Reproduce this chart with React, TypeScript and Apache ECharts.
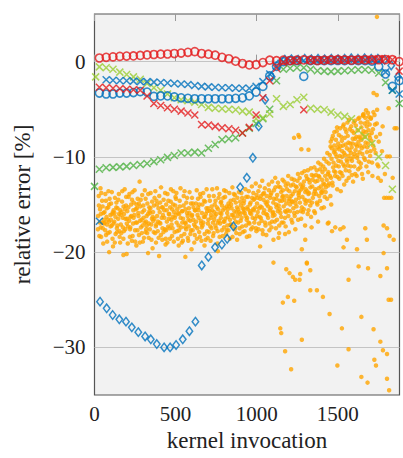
import React, { useEffect, useRef } from 'react';
import * as echarts from 'echarts';

// sampled kernel invocations for the marker series
const SAMPLE_X = [30, 72, 114, 156, 198, 240, 282, 324, 366, 408, 450, 492, 534, 576, 618, 660, 702, 744, 786, 828, 870, 912, 954, 996, 1038, 1080, 1122, 1164, 1206, 1248, 1290, 1332, 1374, 1416, 1458, 1500, 1542, 1584, 1626, 1668, 1710, 1752, 1794, 1836, 1878];

const RED_CIRCLE_Y = [0.38, 0.45, 0.5, 0.55, 0.58, 0.6, 0.65, 0.7, 0.75, 0.78, 0.8, 0.85, 0.9, 0.98, 1.05, 0.85, 0.78, 0.68, 0.45, 0.3, 0.05, -0.2, -0.35, -0.32, -0.1, 0.15, 0.1, 0.15, 0.12, 0.15, 0.18, 0.15, 0.12, 0.15, 0.18, 0.2, 0.18, 0.15, 0.18, 0.2, 0.18, 0.2, 0.22, 0.2, 0.0];
const RED_CROSS_Y = [-2.7, -2.75, -2.8, -2.85, -2.9, -2.95, -3.0, -3.6, -4.4, -4.6, -4.85, -5.0, -5.2, -5.4, -5.6, -6.6, -6.65, -6.8, -6.95, -7.05, -7.2, -7.5, -6.9, -5.6, -3.8, -2.0, -0.7, -0.1, 0.1, 0.15, -5.05, 0.15, 0.2, 0.15, 0.18, 0.2, 0.15, 0.2, 0.22, 0.2, 0.25, 0.3, 0.3, 0.2, -1.0];
const BLUE_CROSS_Y = [-16.75, -1.9, -1.95, -2.0, -2.0, -2.05, -2.1, -2.1, -2.15, -2.2, -2.25, -2.3, -2.35, -2.4, -2.5, -2.6, -2.65, -2.7, -2.75, -2.75, -2.8, -2.8, -2.8, -2.6, -2.1, -1.3, -0.5, 0.0, 0.1, 0.15, 0.12, 0.15, 0.1, 0.15, 0.12, 0.15, 0.18, 0.15, 0.12, 0.15, 0.15, 0.1, -1.1, -3.0, -3.4];
const BLUE_CIRCLE_Y = [-3.3, -3.4, -3.4, -3.3, -3.3, -3.25, -3.15, -3.2, -3.65, -3.6, -3.6, -3.7, -3.8, -3.85, -3.9, -3.9, -3.9, -3.9, -3.9, -3.9, -3.85, -3.8, -3.6, -3.2, -2.6, -1.5, -0.5, 0.0, 0.1, 0.1, -1.55, 0.1, 0.12, 0.1, 0.1, 0.12, 0.1, 0.12, 0.1, 0.1, 0.05, -0.5, -1.3, -2.6, -2.0];
const LIME_FIRST = [7, -1.6];
const LIME_Y = [-0.55, -0.65, -0.8, -1.1, -1.35, -1.6, -1.85, -2.3, -2.75, -3.0, -3.4, -3.8, -4.0, -4.1, -4.25, -4.5, -4.8, -4.9, -4.95, -5.0, -5.05, -5.2, -5.3, -6.0, -5.9, -5.5, -3.9, -4.7, -4.5, -4.0, -3.75, -4.9, -5.0, -5.05, -5.3, -5.6, -5.75, -6.0, -7.2, -7.9, -8.6, -10.0, -10.9, -13.4, null];
const GREEN_FIRST = [0, -13.1];
const GREEN_Y = [-11.3, -11.15, -11.1, -11.05, -11.0, -10.9, -10.8, -10.7, -10.5, -10.3, -10.05, -9.85, -9.6, -9.6, -9.5, -9.6, -9.1, -8.7, -8.2, -8.1, -8.0, -7.5, -7.0, -6.5, -6.0, -5.0, -2.0, -0.8, -0.7, -0.65, -0.65, -0.8, -0.95, -1.0, -1.05, -1.0, -0.95, -0.9, -0.85, -0.85, -0.9, -1.2, -2.2, -3.0, -4.4];

const DIAMONDS = [[34, -25.2], [75, -25.9], [112, -26.6], [153, -27.05], [194, -27.3], [230, -27.9], [270, -28.4], [312, -28.85], [347, -29.15], [384, -29.65], [429, -30.0], [466, -30.0], [503, -29.75], [544, -29.15], [585, -28.3], [622, -27.3], [661, -21.4], [702, -20.5], [743, -19.5], [785, -19.2], [818, -18.6], [856, -17.3], [898, -13.2], [939, -12.2], [976, -10.1], [1012, -6.8], [1052, -4.0], [1092, -1.6], [1132, -0.3], [1173, 0.2], [1214, 0.25], [1255, 0.2], [1296, 0.3], [1337, 0.25], [1378, 0.3], [1419, 0.25], [1460, 0.3], [1501, 0.25], [1542, 0.3], [1583, 0.35], [1624, 0.3], [1665, 0.35], [1706, 0.3], [1747, 0.3], [1788, 0.2], [1829, -0.4], [1870, -1.6]];

const ORANGE_BAND_A = [
  [22,-16.2],[26,-14.1],[30,-18.3],[34,-15.5],[38,-17.4],[42,-13.8],[46,-16.9],[50,-15.2],[54,-19.1],[58,-17.0],
  [62,-15.8],[66,-17.7],[70,-14.6],[74,-16.3],[78,-18.9],[82,-16.6],[86,-13.6],[90,-15.0],[94,-17.9],[98,-16.1],
  [102,-14.9],[106,-17.2],[110,-16.0],[114,-19.4],[118,-15.6],[122,-16.8],[126,-14.3],[130,-18.1],[134,-15.3],[138,-17.5],
  [142,-15.4],[146,-16.5],[150,-13.9],[154,-17.8],[158,-19.0],[162,-17.1],[166,-15.8],[170,-14.7],[174,-16.4],[178,-18.6],
  [182,-16.0],[186,-13.4],[190,-17.6],[194,-15.1],[198,-20.2],[202,-15.7],[206,-17.3],[210,-14.2],[214,-16.7],[218,-18.4],
  [222,-16.3],[226,-15.0],[230,-18.8],[234,-13.7],[238,-17.0],[242,-14.8],[246,-16.1],[250,-17.7],[254,-15.5],[258,-19.3],
  [262,-16.9],[266,-14.4],[270,-15.9],[274,-18.2],[278,-12.6],[282,-15.2],[286,-17.4],[290,-16.6],[294,-14.0],[298,-18.9],
  [302,-16.4],[306,-15.6],[310,-13.5],[314,-17.9],[318,-16.8],[322,-17.2],[326,-14.9],[330,-16.0],[334,-18.5],[338,-15.3],
  [342,-15.9],[346,-13.8],[350,-17.1],[354,-16.5],[358,-19.6],[362,-16.7],[366,-15.1],[370,-14.3],[374,-18.0],[378,-17.3],
  [382,-14.6],[386,-16.2],[390,-17.8],[394,-15.4],[398,-20.4],[402,-15.8],[406,-17.0],[410,-13.2],[414,-16.4],[418,-18.7],
  [422,-16.1],[426,-14.5],[430,-15.6],[434,-17.6],[438,-19.2],[442,-15.0],[446,-16.8],[450,-13.9],[454,-17.3],[458,-16.0],
  [462,-17.5],[466,-15.3],[470,-14.7],[474,-16.6],[478,-18.3],[482,-16.3],[486,-13.6],[490,-15.8],[494,-17.9],[498,-15.1],
  [502,-14.4],[506,-16.9],[510,-15.5],[514,-18.6],[518,-17.2],[522,-16.0],[526,-15.2],[530,-13.3],[534,-17.4],[538,-19.0],
  [542,-15.7],[546,-16.5],[550,-14.1],[554,-18.1],[558,-16.9],[562,-17.0],[566,-14.8],[570,-15.9],[574,-16.2],[578,-18.8],
  [582,-15.4],[586,-13.7],[590,-16.7],[594,-17.7],[598,-19.7],[602,-16.1],[606,-14.9],[610,-15.3],[614,-17.1],[618,-18.2],
  [622,-15.6],[626,-16.8],[630,-13.5],[634,-17.5],[638,-14.4],[642,-16.4],[646,-15.0],[650,-18.4],[654,-14.2],[658,-17.0],
  [662,-15.9],[666,-17.2],[670,-13.8],[674,-16.3],[678,-19.3],[682,-14.7],[686,-16.0],[690,-15.4],[694,-17.8],[698,-18.5],
  [702,-16.6],[706,-14.1],[710,-15.7],[714,-17.3],[718,-16.1],[722,-15.2],[726,-13.4],[730,-16.9],[734,-18.0],[738,-15.8],
  [742,-16.2],[746,-14.6],[750,-17.5],[754,-15.3],[758,-19.1],[762,-15.5],[766,-16.7],[770,-13.9],[774,-17.0],[778,-14.8],
  [782,-16.0],[786,-15.1],[790,-18.3],[794,-14.3],[798,-17.4],[802,-15.4],[806,-16.5],[810,-13.6],[814,-17.7],[818,-15.9],
  [822,-16.3],[826,-14.9],[830,-15.2],[834,-18.6],[838,-17.1],[842,-15.0],[846,-16.1],[850,-13.2],[854,-17.3],[858,-14.5],
  [862,-15.7],[866,-14.0],[870,-16.8],[874,-18.0],[878,-15.3],[882,-16.2],[886,-15.5],[890,-13.7],[894,-17.5],[898,-14.7],
  [902,-15.1],[906,-16.4],[910,-14.3],[914,-17.9],[918,-15.8],[922,-14.6],[926,-15.9],[930,-13.4],[934,-17.2],[938,-16.6],
  [942,-15.3],[946,-14.2],[950,-16.9],[954,-18.3],[958,-15.0],[962,-14.8],[966,-16.0],[970,-13.1],[974,-17.4],[978,-15.5],
  [982,-15.6],[986,-14.4],[990,-16.5],[994,-12.8],[998,-17.8],[1002,-14.9],[1006,-15.8],[1010,-13.6],[1014,-17.0],[1018,-16.3],
  [1022,-15.2],[1026,-14.1],[1030,-16.7],[1034,-12.5],[1038,-18.1],[1042,-14.5],[1046,-15.6],[1050,-13.3],[1054,-17.2],[1058,-16.0],
  [1062,-15.0],[1066,-14.7],[1070,-16.4],[1074,-12.9],[1078,-17.7],[1082,-14.3],[1086,-15.4],[1090,-13.8],[1094,-16.8],[1098,-15.9],
  [1102,-14.8],[1106,-13.5],[1110,-16.1],[1114,-12.2],[1118,-17.5],[1122,-15.3],[1126,-14.0],[1130,-15.7],[1134,-13.1],[1138,-18.0],
  [1142,-14.6],[1146,-15.9],[1150,-13.7],[1154,-16.9],[1158,-14.2],[1162,-14.1],[1166,-15.2],[1170,-12.6],[1174,-16.4],[1178,-17.3],
  [1182,-14.9],[1186,-13.4],[1190,-15.6],[1194,-12.0],[1198,-17.9],[1202,-14.4],[1206,-15.0],[1210,-13.0],[1214,-16.6],[1218,-14.7],
  [1222,-13.9],[1226,-15.4],[1230,-12.4],[1234,-16.2],[1238,-17.6],[1242,-14.5],[1246,-13.2],[1250,-15.8],[1254,-11.8],[1258,-14.0],
  [1262,-13.6],[1266,-14.8],[1270,-12.9],[1274,-16.5],[1278,-15.3],[1282,-14.2],[1286,-13.0],[1290,-15.5],[1294,-11.5],[1298,-17.2],
  [1302,-13.4],[1306,-14.6],[1310,-12.3],[1314,-16.0],[1318,-13.9],[1322,-13.8],[1326,-12.7],[1330,-15.1],[1334,-11.2],[1338,-17.4],
  [1342,-13.1],[1346,-14.3],[1350,-12.0],[1354,-15.7],[1358,-13.6],[1362,-12.6],[1366,-13.9],[1370,-11.4],[1374,-15.0],[1378,-16.8],
  [1382,-13.3],[1386,-12.1],[1390,-14.6],[1394,-10.8],[1398,-13.7],[1402,-12.4],[1406,-13.5],[1410,-11.0],[1414,-15.3],[1418,-12.9],
  [1422,-12.0],[1426,-13.2],[1430,-10.5],[1434,-14.4],[1438,-17.0],[1442,-11.6],[1446,-12.8],[1450,-9.8],[1454,-14.1],[1458,-12.2],
  [1462,-9.1],[1466,-12.7],[1469,-7.8],[1473,-10.6],[1477,-11.5],[1479,-8.8],[1483,-12.0],[1486,-9.7],[1489,-10.9],[1493,-7.3],[1496,-13.4],[1499,-9.0],
  [1502,-8.6],[1505,-11.0],[1509,-12.3],[1512,-9.9],[1514,-7.0],[1519,-10.5],[1522,-11.7],[1525,-8.3],[1527,-9.4],[1532,-6.8],[1534,-10.8],[1539,-12.9],
  [1542,-8.0],[1545,-9.8],[1549,-11.4],[1552,-7.4],[1554,-10.3],[1559,-6.4],[1562,-10.9],[1565,-8.5],[1567,-12.2],[1572,-9.3],[1574,-7.1],[1579,-11.0],
  [1582,-6.8],[1585,-9.0],[1587,-10.4],[1592,-8.1],[1594,-12.6],[1599,-7.5],[1602,-9.7],[1605,-6.2],[1607,-11.8],[1612,-8.7],[1614,-7.9],[1619,-10.1],
  [1622,-7.2],[1625,-11.3],[1627,-8.4],[1632,-5.9],[1634,-9.5],[1639,-8.0],[1642,-10.7],[1645,-6.9],[1647,-9.1],[1652,-7.6],[1654,-12.3],[1659,-5.5],
  [1662,-8.9],[1665,-6.5],[1667,-10.3],[1672,-7.4],[1674,-5.1],[1679,-9.5],[1682,-6.3],[1685,-8.6],[1687,-11.6],[1692,-5.8],[1694,-7.7],[1699,-9.9],
  [1703,-6.0],[1707,-8.3],[1711,-10.6],[1716,-7.1],[1719,-5.3],[1724,-9.2],[1729,-6.6],[1736,-7.9],[1744,-10.8],[1752,-8.4]
];

const ORANGE_BAND_B = [
  [21,-17.6],[27,-15.1],[33,-16.9],[37,-13.3],[39,-16.0],[41,-18.4],[47,-14.6],[51,-17.5],[55,-15.9],[59,-16.6],
  [63,-16.9],[67,-13.9],[71,-18.2],[75,-15.4],[77,-17.1],[83,-18.0],[85,-15.3],[89,-16.8],[93,-14.4],[99,-17.3],
  [101,-16.6],[107,-13.7],[111,-18.6],[113,-15.8],[117,-17.0],[123,-15.9],[125,-19.0],[129,-16.3],[135,-14.8],[139,-17.9],
  [141,-17.2],[147,-14.5],[151,-16.0],[155,-18.4],[159,-15.6],[161,-16.1],[165,-18.0],[171,-13.6],[175,-17.4],[179,-15.2],
  [181,-17.8],[187,-15.5],[191,-16.5],[195,-14.2],[199,-17.0],[201,-16.5],[205,-19.1],[209,-15.3],[215,-13.9],[219,-17.6],
  [221,-17.4],[227,-16.2],[231,-14.5],[235,-18.3],[239,-15.6],[241,-16.4],[247,-13.5],[251,-18.9],[255,-16.9],[259,-15.0],
  [261,-15.4],[265,-17.7],[271,-16.2],[273,-14.9],[279,-19.0],[281,-16.7],[285,-14.5],[291,-18.0],[295,-15.8],[297,-17.2],
  [301,-15.1],[305,-18.5],[309,-16.9],[315,-14.4],[319,-17.6],[321,-16.2],[325,-18.0],[331,-13.9],[335,-17.0],[339,-15.7],
  [341,-17.6],[345,-15.4],[351,-18.7],[355,-14.7],[359,-16.3],[361,-15.8],[365,-17.9],[369,-16.5],[375,-13.6],[379,-19.0],
  [381,-17.1],[385,-15.0],[391,-16.8],[395,-18.5],[399,-14.1],[401,-16.9],[405,-14.8],[409,-18.2],[415,-15.3],[419,-17.5],
  [421,-15.3],[425,-17.9],[431,-16.4],[435,-13.8],[439,-18.6],[441,-17.7],[445,-15.6],[449,-19.0],[455,-14.6],[459,-16.5],
  [461,-16.0],[465,-18.6],[471,-13.4],[475,-17.1],[479,-15.5],[481,-17.5],[485,-15.0],[489,-18.9],[495,-16.4],[499,-14.2],
  [501,-16.1],[505,-13.8],[509,-17.8],[515,-15.9],[519,-19.3],[521,-17.7],[525,-14.6],[531,-16.4],[535,-18.3],[539,-15.7],
  [541,-16.9],[545,-18.8],[549,-15.1],[555,-13.6],[559,-17.4],[561,-15.5],[565,-17.6],[571,-14.3],[575,-18.5],[579,-16.6],
  [581,-17.3],[585,-15.9],[591,-18.1],[595,-14.9],[599,-16.2],[601,-14.3],[605,-17.7],[609,-16.6],[615,-19.0],[619,-15.6],
  [621,-17.3],[625,-14.9],[631,-18.6],[635,-16.1],[639,-15.3],[641,-15.6],[645,-17.9],[651,-13.9],[655,-16.7],[659,-18.8],
  [661,-17.4],[665,-15.0],[671,-16.9],[675,-14.6],[679,-18.1],[681,-16.3],[685,-18.7],[691,-13.4],[695,-15.7],[699,-17.0],
  [701,-15.4],[705,-17.9],[711,-14.6],[715,-18.8],[719,-16.4],[721,-17.5],[725,-15.6],[731,-18.3],[735,-14.1],[739,-16.6],
  [741,-15.0],[745,-17.2],[751,-16.0],[755,-13.3],[759,-17.8],[761,-16.9],[765,-14.3],[771,-18.4],[775,-15.9],[779,-16.4],
  [781,-14.7],[785,-17.7],[791,-15.6],[795,-16.8],[799,-13.5],[801,-16.8],[805,-14.2],[811,-18.1],[815,-15.2],[819,-17.2],
  [821,-15.5],[825,-17.7],[831,-13.8],[835,-16.6],[839,-14.6],[841,-17.1],[845,-15.4],[851,-18.4],[855,-16.1],[859,-13.9],
  [861,-16.4],[865,-17.6],[871,-14.8],[875,-15.8],[879,-18.7],[881,-14.3],[885,-16.9],[891,-15.8],[895,-18.1],[899,-16.0],
  [901,-16.7],[905,-13.8],[911,-17.3],[915,-15.4],[919,-14.9],[921,-15.5],[925,-17.8],[931,-16.2],[935,-14.2],[939,-18.4],
  [941,-16.4],[945,-15.5],[951,-13.6],[955,-17.0],[959,-15.9],[961,-15.7],[965,-17.6],[971,-14.3],[975,-16.4],[979,-13.8],
  [981,-14.5],[985,-16.9],[991,-15.3],[995,-17.5],[999,-14.0],[1001,-16.2],[1005,-14.3],[1011,-17.6],[1015,-15.4],[1019,-13.1],
  [1021,-14.4],[1025,-16.4],[1031,-15.3],[1035,-17.7],[1039,-13.9],[1041,-15.9],[1045,-13.8],[1051,-16.9],[1055,-14.8],[1059,-18.2],
  [1061,-14.1],[1065,-16.1],[1071,-15.2],[1075,-13.5],[1079,-17.0],[1081,-15.6],[1085,-14.0],[1091,-17.4],[1095,-12.6],[1099,-16.2],
  [1101,-15.8],[1105,-14.4],[1111,-16.8],[1115,-13.2],[1119,-15.0],[1121,-14.4],[1125,-16.6],[1131,-12.7],[1135,-15.1],[1139,-17.2],
  [1141,-15.5],[1145,-13.2],[1151,-16.3],[1155,-14.6],[1159,-12.4],[1161,-13.5],[1165,-16.9],[1171,-14.5],[1175,-15.7],[1179,-13.0],
  [1181,-15.8],[1185,-14.1],[1191,-12.8],[1195,-16.2],[1199,-14.6],[1201,-13.6],[1205,-15.7],[1211,-14.1],[1215,-12.3],[1219,-16.9],
  [1221,-14.7],[1225,-12.9],[1231,-15.9],[1235,-13.6],[1239,-14.9],[1241,-13.1],[1245,-15.2],[1251,-12.5],[1255,-16.6],[1259,-13.8],
  [1261,-14.3],[1265,-12.2],[1271,-15.7],[1275,-13.4],[1279,-11.7],[1281,-13.2],[1285,-15.8],[1291,-12.6],[1295,-14.5],[1299,-13.7],
  [1301,-14.9],[1305,-12.0],[1311,-13.6],[1315,-11.4],[1319,-15.6],[1321,-12.4],[1325,-14.6],[1331,-13.2],[1335,-16.3],[1339,-11.9],
  [1341,-14.8],[1345,-12.4],[1351,-13.9],[1355,-11.1],[1359,-15.9],[1361,-13.4],[1365,-11.9],[1371,-14.8],[1375,-12.5],[1379,-10.6],
  [1381,-12.0],[1385,-14.1],[1391,-11.3],[1395,-13.1],[1399,-15.4],[1401,-13.8],[1405,-11.6],[1411,-12.8],[1415,-10.2],[1419,-14.2],
  [1421,-11.3],[1425,-13.7],[1431,-12.4],[1435,-9.6],[1439,-11.8],[1441,-13.0],[1445,-10.7],[1451,-12.0],[1455,-8.9],[1459,-15.0],
  [1461,-10.2],[1464,-8.1],[1468,-13.0],[1471,-11.1],[1476,-9.5],[1478,-7.4],[1481,-9.3],[1485,-11.6],[1488,-8.2],[1492,-10.0],[1495,-6.9],[1498,-12.1],
  [1503,-10.4],[1506,-7.7],[1508,-9.2],[1513,-11.6],[1516,-8.9],[1518,-13.6],[1521,-7.9],[1526,-10.0],[1529,-12.0],[1531,-8.8],[1536,-6.6],[1538,-9.6],
  [1541,-11.0],[1546,-7.1],[1548,-8.7],[1553,-12.5],[1556,-9.1],[1558,-10.5],[1561,-7.8],[1566,-9.9],[1569,-6.1],[1571,-11.5],[1576,-8.6],[1578,-10.2],
  [1581,-9.6],[1586,-11.9],[1589,-7.3],[1591,-8.6],[1596,-10.0],[1598,-6.4],[1601,-11.0],[1606,-8.1],[1609,-9.3],[1611,-6.7],[1616,-12.0],[1618,-8.9],
  [1621,-9.8],[1626,-6.0],[1629,-10.5],[1631,-7.9],[1636,-8.8],[1638,-11.1],[1641,-6.4],[1646,-8.2],[1649,-11.8],[1651,-9.7],[1656,-5.7],[1658,-7.3],
  [1661,-10.1],[1666,-7.9],[1669,-5.9],[1671,-8.5],[1676,-11.0],[1678,-6.8],[1681,-9.0],[1686,-5.4],[1689,-7.2],[1691,-10.5],[1696,-6.6],[1698,-8.0],
  [1701,-9.4],[1705,-5.9],[1709,-7.5],[1713,-12.0],[1717,-8.8],[1726,-5.6],[1733,-9.6],[1740,-6.5],[1748,-12.2]
];

const ORANGE_OUTLIERS = [
  [1309,-21.2],[1182,-21.8],[1202,-22.2],[1223,-22.6],[1237,-22.9],[1264,-22.9],[1268,-22.3],[1330,-21.9],[1628,-21.5],[1686,-21.7],
  [1803,-21.7],[1762,-22.5],[1566,-22.9],[1192,-24.7],[1161,-25.3],[1231,-25.1],[1330,-24.0],[1371,-24.0],[1408,-24.7],[1449,-26.5],
  [1645,-26.8],[1813,-25.0],[1828,-25.0],[1145,-28.0],[1151,-28.5],[1278,-29.2],[1525,-28.0],[1720,-28.1],[1762,-29.4],[1175,-30.4],
  [1566,-30.2],[1778,-30.3],[1803,-30.7],[1725,-31.3],[1735,-31.9],[1212,-32.3],[1497,-31.9],[1645,-33.1],[1683,-33.7],[1803,-33.3],[1816,-34.5],
  [1103,-18.7],[1134,-18.5],[1175,-18.1],[1299,-18.7],[1443,-16.9],[1464,-17.8],[1484,-17.4],[1515,-17.6],[1535,-17.4],[1535,-19.5],
  [1556,-18.7],[1618,-19.7],[1669,-17.5],[1679,-18.7],[1782,-17.2],[1803,-17.5],[1819,-18.3],[1844,-18.7],[1782,-20.1],[1278,-19.7],
  [1021,-19.4],[1309,-21.1],[1103,-21.1],
  [1785,-14.3],[1800,-14.3],[1815,-14.3],[1830,-14.3],[1803,-9.95],[1820,-9.95],[1850,-7.0],[1862,-7.0],[1813,-4.9],[1740,-3.5],
  [1720,-3.3],[1742,-5.05],[1655,-5.6],[1230,-8.0],[1257,-7.7],[1262,-7.9],[1275,-9.2],[1319,-9.25],[1456,-8.4],[1741,4.7],
  [178,-20.3],[560,-20.5],[90,-20.0],[330,-20.1],[760,-19.9],
  [1750,-11.0],[1765,-12.5],[1772,-9.4],[1790,-11.8],[1838,-12.2],[1760,-7.6],[1776,-6.8]
];

const Y_GRID = [0, -10, -20, -30];
const X_MAX = 1880;
const Y_MIN = -35;
const Y_MAX = 5;

const RED = '#e41a1c';
const BLUE = '#0072bd';
const LIME = '#9acd32';
const GREEN = '#4cb040';
const ORANGE = '#ffa500';
const FONT = "'Liberation Serif', 'DejaVu Serif', serif";
const CROSS = 'path://M0,0L10,10M10,0L0,10';

function zip(xs: number[], ys: (number | null)[]) {
  const out: number[][] = [];
  xs.forEach((x, i) => {
    const y = ys[i];
    if (y !== null && y !== undefined) out.push([x, y]);
  });
  return out;
}

function fmtNum(v: number) {
  return v < 0 ? '\u2212' + Math.abs(v) : String(v);
}

export default function App() {
  const ref = useRef<HTMLDivElement>(null);
  useEffect(() => {
    if (!ref.current) return;
    const chart = echarts.init(ref.current, null, { renderer: 'svg' });
    const hollow = (c: string, w: number) => ({ color: 'rgba(0,0,0,0)', borderColor: c, borderWidth: w });
    const option: any = {
      animation: false,
      grid: {
        left: 94.5, right: 3.5, top: 14, bottom: 63, show: true,
        containLabel: false, outerBoundsMode: 'none',
        backgroundColor: '#f2f2f2', borderColor: '#555', borderWidth: 1.2,
      },
      xAxis: [
        {
          type: 'value', min: 0, max: X_MAX, interval: 500, position: 'bottom',
          axisLine: { show: false },
          axisTick: { show: true, inside: true, length: 7, lineStyle: { color: '#999' } },
          splitLine: { show: false },
          axisLabel: {
            fontFamily: FONT, fontSize: 21, color: '#222', margin: 8,
            formatter: (v: number) => (v % 500 === 0 ? fmtNum(v) : ''),
          },
          name: 'kernel invocation', nameLocation: 'middle', nameGap: 33,
          nameTextStyle: { fontFamily: FONT, fontSize: 23, color: '#222' },
        },
        {
          type: 'value', min: 0, max: X_MAX, interval: 500, position: 'top',
          axisLine: { show: false },
          axisTick: { show: true, inside: true, length: 7, lineStyle: { color: '#999' } },
          splitLine: { show: false }, axisLabel: { show: false },
        },
      ],
      yAxis: {
        type: 'value', min: Y_MIN, max: Y_MAX, interval: 5,
        axisLine: { show: false }, axisTick: { show: false }, splitLine: { show: false },
        axisLabel: {
          fontFamily: FONT, fontSize: 21, color: '#222', margin: 9,
          formatter: (v: number) => (v % 10 === 0 ? fmtNum(v) : ''),
        },
        name: 'relative error [%]', nameLocation: 'middle', nameGap: 61,
        nameTextStyle: { fontFamily: FONT, fontSize: 23, color: '#222' },
      },
      series: [
        {
          type: 'scatter', name: 'orange', data: [...ORANGE_BAND_A, ...ORANGE_BAND_B, ...ORANGE_OUTLIERS],
          symbol: 'circle', symbolSize: 4.5, itemStyle: { color: ORANGE }, z: 2,
          markLine: {
            silent: true, symbol: ['none', 'none'], label: { show: false }, z: 1,
            lineStyle: { color: '#c4c4c4', type: 'solid', width: 1 },
            data: Y_GRID.map((y) => ({ yAxis: y })),
          },
        },
        {
          type: 'scatter', name: 'green', data: [GREEN_FIRST, ...zip(SAMPLE_X, GREEN_Y)],
          symbol: CROSS, symbolSize: 7, itemStyle: hollow(GREEN, 1.5), z: 3,
        },
        {
          type: 'scatter', name: 'lime', data: [LIME_FIRST, ...zip(SAMPLE_X, LIME_Y)],
          symbol: CROSS, symbolSize: 7, itemStyle: hollow(LIME, 1.5), z: 3,
        },
        {
          type: 'scatter', name: 'blueDiamond', data: DIAMONDS,
          symbol: 'diamond', symbolSize: [6.5, 8.5], itemStyle: hollow(BLUE, 1.5), z: 4,
        },
        {
          type: 'scatter', name: 'blueCircle', data: zip(SAMPLE_X, BLUE_CIRCLE_Y),
          symbol: 'circle', symbolSize: 8, itemStyle: hollow(BLUE, 1.6), z: 4,
        },
        {
          type: 'scatter', name: 'blueCross', data: zip(SAMPLE_X, BLUE_CROSS_Y),
          symbol: CROSS, symbolSize: 7, itemStyle: hollow(BLUE, 1.5), z: 5,
        },
        {
          type: 'scatter', name: 'redCross', data: zip(SAMPLE_X, RED_CROSS_Y),
          symbol: CROSS, symbolSize: 7, itemStyle: hollow(RED, 1.5), z: 5,
        },
        {
          type: 'scatter', name: 'redCircle', data: zip(SAMPLE_X, RED_CIRCLE_Y),
          symbol: 'circle', symbolSize: 8, itemStyle: hollow(RED, 1.6), z: 5,
        },
      ],
    };
    chart.setOption(option);
    return () => chart.dispose();
  }, []);
  return (
    <div
      ref={ref}
      style={{ position: 'absolute', left: 0, top: 0, width: 403, height: 458 }}
    />
  );
}
